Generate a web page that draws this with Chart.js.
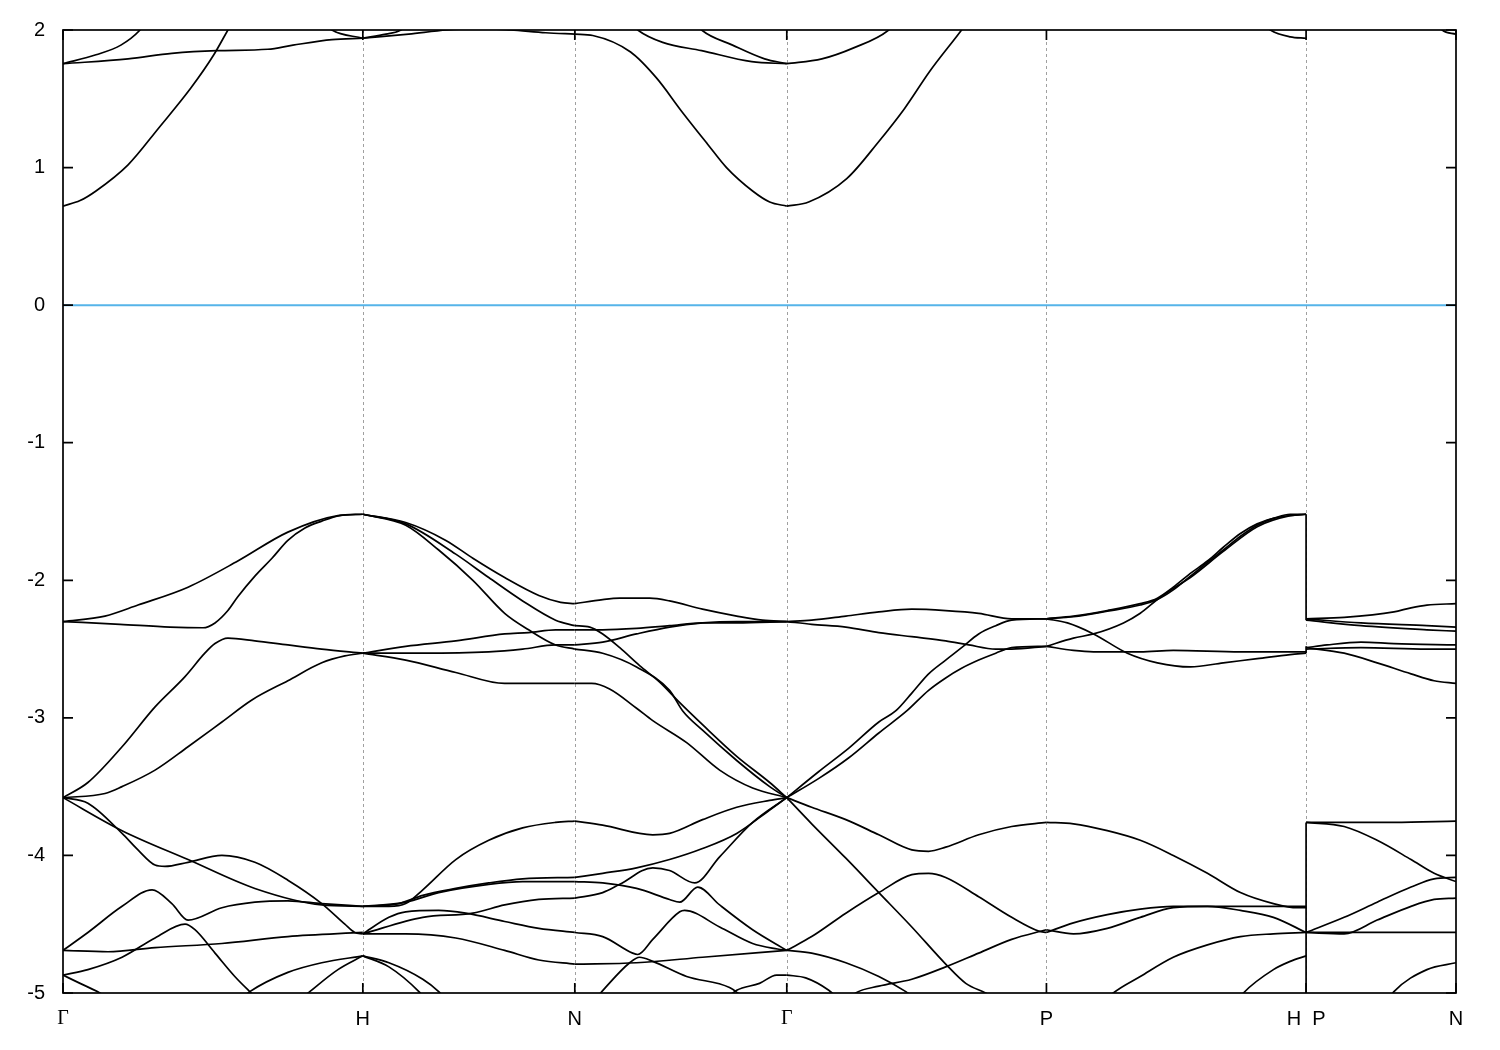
<!DOCTYPE html>
<html>
<head>
<meta charset="utf-8">
<script src="https://cdn.jsdelivr.net/npm/chart.js@4.4.1/dist/chart.umd.min.js"></script>
<style>
  body { margin: 0; background: #fff; }
  canvas { display: block; }
</style>
</head>
<body>
<canvas id="bands" width="1500" height="1050"></canvas>
<script>
// high symmetry points along the k path (bcc: G-H-N-G-P-H|P-N)
const kTicks = [0, 1, 1.707, 2.414, 3.280, 4.146, 4.646];
const kLabels = ['Γ', 'H', 'N', 'Γ', 'P', 'H  P', 'N'];

// bands, one list of [k, E(eV)] per line, grouped by path segment
const segGH = [
  [[0,-2.30],[0.14,-2.26],[0.25,-2.18],[0.417,-2.05],[0.583,-1.86],[0.75,-1.65],[0.917,-1.53],[1,-1.52]],
  [[0,-2.30],[0.19,-2.32],[0.357,-2.34],[0.467,-2.345],[0.507,-2.31],[0.55,-2.22],[0.583,-2.12],[0.64,-1.97],[0.697,-1.84],[0.75,-1.71],[0.807,-1.62],[0.863,-1.57],[0.923,-1.53],[1,-1.52]],
  [[0,-3.58],[0.083,-3.47],[0.197,-3.21],[0.307,-2.92],[0.407,-2.70],[0.473,-2.53],[0.507,-2.46],[0.55,-2.42],[0.64,-2.44],[0.75,-2.47],[0.863,-2.50],[1,-2.53]],
  [[0,-3.58],[0.14,-3.55],[0.197,-3.50],[0.307,-3.38],[0.417,-3.21],[0.53,-3.03],[0.63,-2.87],[0.75,-2.73],[0.863,-2.60],[0.94,-2.55],[1,-2.53]],
  [[0,-3.58],[0.197,-3.82],[0.417,-4.03],[0.64,-4.24],[0.863,-4.36],[1,-4.37]],
  [[0,-3.58],[0.083,-3.62],[0.197,-3.84],[0.25,-3.96],[0.307,-4.07],[0.34,-4.08],[0.417,-4.05],[0.53,-4.00],[0.64,-4.05],[0.75,-4.18],[0.863,-4.35],[0.94,-4.50],[0.973,-4.56],[1,-4.57]],
  [[0,-4.69],[0.083,-4.56],[0.197,-4.37],[0.297,-4.25],[0.363,-4.35],[0.417,-4.47],[0.53,-4.38],[0.64,-4.34],[0.75,-4.33],[0.863,-4.35],[1,-4.37]],
  [[0,-4.87],[0.083,-4.83],[0.197,-4.74],[0.307,-4.60],[0.407,-4.50],[0.44,-4.54],[0.507,-4.71],[0.573,-4.88],[0.623,-4.99],[0.657,-5.06]],
  [[0,-4.69],[0.15,-4.70],[0.307,-4.67],[0.53,-4.64],[0.75,-4.59],[1,-4.56]],
  [[0,-4.87],[0.057,-4.93],[0.123,-5.0],[0.157,-5.05]],
  [[0.59,-5.05],[0.623,-4.99],[0.75,-4.85],[0.863,-4.78],[1,-4.73]],
  [[0.79,-5.05],[0.823,-4.99],[0.917,-4.83],[1,-4.73]],
  [[0,0.72],[0.057,0.76],[0.11,0.83],[0.217,1.02],[0.32,1.29],[0.427,1.58],[0.503,1.82],[0.55,2.0],[0.59,2.15]],
  [[0,1.755],[0.217,1.79],[0.363,1.83],[0.513,1.85],[0.683,1.86],[0.767,1.89],[0.897,1.93],[1,1.94]],
  [[0,1.755],[0.11,1.82],[0.193,1.89],[0.257,2.0],[0.307,2.15]],
  [[0.823,2.15],[0.897,2.0],[1,1.94]]
];

const segHN = [
  [[1,-1.52],[1.143,-1.58],[1.277,-1.71],[1.367,-1.84],[1.473,-1.98],[1.587,-2.11],[1.66,-2.16],[1.707,-2.17]],
  [[1,-1.52],[1.143,-1.59],[1.31,-1.81],[1.42,-1.98],[1.533,-2.15],[1.643,-2.29],[1.707,-2.33]],
  [[1,-1.52],[1.143,-1.60],[1.253,-1.78],[1.367,-2.00],[1.473,-2.24],[1.553,-2.36],[1.643,-2.47],[1.707,-2.50]],
  [[1,-2.53],[1.143,-2.48],[1.31,-2.44],[1.473,-2.39],[1.553,-2.38],[1.643,-2.36],[1.707,-2.36]],
  [[1,-2.53],[1.2,-2.53],[1.42,-2.52],[1.533,-2.50],[1.643,-2.47],[1.707,-2.47]],
  [[1,-2.53],[1.143,-2.58],[1.31,-2.67],[1.473,-2.75],[1.643,-2.75],[1.707,-2.75]],
  [[1,-4.37],[1.087,-4.37],[1.143,-4.35],[1.2,-4.25],[1.31,-4.03],[1.42,-3.89],[1.533,-3.80],[1.643,-3.76],[1.707,-3.75]],
  [[1,-4.37],[1.12,-4.35],[1.2,-4.29],[1.31,-4.24],[1.42,-4.20],[1.533,-4.17],[1.707,-4.16]],
  [[1,-4.37],[1.143,-4.34],[1.253,-4.27],[1.42,-4.21],[1.533,-4.19],[1.707,-4.19]],
  [[1,-4.57],[1.087,-4.45],[1.143,-4.41],[1.253,-4.40],[1.343,-4.42],[1.473,-4.48],[1.587,-4.53],[1.707,-4.56]],
  [[1,-4.57],[1.2,-4.45],[1.367,-4.42],[1.473,-4.36],[1.587,-4.32],[1.707,-4.31]],
  [[1,-4.57],[1.143,-4.57],[1.31,-4.60],[1.473,-4.69],[1.587,-4.76],[1.707,-4.79]],
  [[1,-4.73],[1.087,-4.78],[1.2,-4.90],[1.253,-4.99],[1.277,-5.05]],
  [[1,-4.73],[1.087,-4.81],[1.187,-4.99],[1.21,-5.05]],
  [[1,1.94],[1.153,1.97],[1.28,2.0],[1.393,2.01],[1.493,2.0],[1.61,1.98],[1.707,1.97]],
  [[1,1.94],[1.077,1.97],[1.127,2.0],[1.177,2.1]]
];

const segNG = [
  [[1.707,-2.17],[1.8,-2.14],[1.857,-2.13],[1.957,-2.13],[2.023,-2.15],[2.133,-2.21],[2.247,-2.26],[2.333,-2.29],[2.414,-2.30]],
  [[1.707,-2.33],[1.757,-2.34],[1.8,-2.39],[1.857,-2.49],[1.923,-2.62],[1.99,-2.74],[2.057,-2.89],[2.133,-3.05],[2.247,-3.28],[2.357,-3.47],[2.414,-3.58]],
  [[1.707,-2.50],[1.8,-2.53],[1.913,-2.63],[2.023,-2.80],[2.067,-2.95],[2.133,-3.09],[2.247,-3.31],[2.357,-3.50],[2.414,-3.58]],
  [[1.707,-2.36],[1.8,-2.36],[1.913,-2.35],[2.023,-2.33],[2.133,-2.31],[2.247,-2.31],[2.414,-2.30]],
  [[1.707,-2.47],[1.8,-2.45],[1.913,-2.39],[2.023,-2.34],[2.133,-2.31],[2.247,-2.30],[2.414,-2.30]],
  [[1.707,-2.75],[1.763,-2.75],[1.823,-2.79],[1.913,-2.93],[1.967,-3.02],[2.08,-3.18],[2.19,-3.38],[2.3,-3.51],[2.414,-3.58]],
  [[1.707,-3.75],[1.8,-3.78],[1.967,-3.85],[2.023,-3.84],[2.133,-3.74],[2.247,-3.65],[2.357,-3.60],[2.414,-3.58]],
  [[1.707,-4.16],[1.8,-4.13],[1.913,-4.09],[2.023,-4.03],[2.133,-3.95],[2.247,-3.84],[2.357,-3.67],[2.414,-3.58]],
  [[1.707,-4.19],[1.8,-4.20],[1.913,-4.24],[2.023,-4.32],[2.057,-4.34],[2.117,-4.23],[2.19,-4.36],[2.3,-4.54],[2.414,-4.69]],
  [[1.707,-4.31],[1.8,-4.27],[1.857,-4.21],[1.967,-4.09],[2.023,-4.11],[2.107,-4.20],[2.19,-4.01],[2.3,-3.76],[2.414,-3.58]],
  [[1.707,-4.56],[1.8,-4.59],[1.9,-4.71],[1.917,-4.72],[1.967,-4.61],[2.057,-4.41],[2.073,-4.40],[2.19,-4.52],[2.3,-4.64],[2.383,-4.68],[2.414,-4.69]],
  [[1.707,-4.79],[1.913,-4.78],[2.133,-4.74],[2.414,-4.69]],
  [[1.773,-5.05],[1.797,-4.99],[1.89,-4.78],[1.923,-4.74],[1.967,-4.77],[2.08,-4.88],[2.223,-4.96],[2.28,-5.05]],
  [[2.207,-5.05],[2.247,-4.98],[2.323,-4.93],[2.38,-4.87],[2.414,-4.87]],
  [[1.707,1.97],[1.767,1.96],[1.893,1.84],[1.98,1.65],[2.063,1.41],[2.15,1.17],[2.213,1.00],[2.3,0.83],[2.357,0.75],[2.414,0.72]],
  [[1.873,2.1],[1.917,2.0],[2.0,1.91],[2.13,1.85],[2.297,1.77],[2.414,1.755]],
  [[2.09,2.1],[2.13,2.0],[2.233,1.89],[2.34,1.79],[2.414,1.755]]
];

const segGP = [
  [[2.414,-2.30],[2.497,-2.29],[2.611,-2.26],[2.721,-2.23],[2.831,-2.21],[2.944,-2.22],[3.054,-2.24],[3.164,-2.28],[3.28,-2.28]],
  [[2.414,-2.30],[2.497,-2.32],[2.611,-2.34],[2.721,-2.38],[2.831,-2.41],[2.944,-2.44],[3.021,-2.47],[3.111,-2.50],[3.164,-2.50],[3.28,-2.48]],
  [[2.414,-3.58],[2.521,-3.39],[2.621,-3.22],[2.721,-3.03],[2.777,-2.95],[2.831,-2.82],[2.887,-2.68],[2.944,-2.58],[2.997,-2.49],[3.054,-2.39],[3.111,-2.33],[3.164,-2.29],[3.28,-2.28]],
  [[2.414,-3.58],[2.521,-3.44],[2.621,-3.29],[2.721,-3.11],[2.814,-2.95],[2.887,-2.80],[2.944,-2.71],[2.997,-2.64],[3.054,-2.58],[3.111,-2.53],[3.164,-2.49],[3.28,-2.48]],
  [[2.414,-3.58],[2.497,-3.65],[2.611,-3.74],[2.721,-3.85],[2.831,-3.96],[2.887,-3.97],[2.944,-3.94],[3.054,-3.85],[3.164,-3.79],[3.28,-3.76]],
  [[2.414,-3.58],[2.497,-3.77],[2.611,-4.02],[2.721,-4.27],[2.831,-4.52],[2.944,-4.79],[3.011,-4.93],[3.077,-5.0],[3.12,-5.05]],
  [[2.414,-4.69],[2.497,-4.59],[2.611,-4.42],[2.721,-4.27],[2.831,-4.14],[2.887,-4.13],[2.944,-4.16],[3.054,-4.30],[3.164,-4.45],[3.254,-4.55],[3.28,-4.56]],
  [[2.414,-4.69],[2.497,-4.71],[2.611,-4.78],[2.721,-4.88],[2.811,-4.99],[2.85,-5.05]],
  [[2.414,-4.87],[2.477,-4.89],[2.554,-4.98],[2.59,-5.05]],
  [[2.62,-5.05],[2.644,-5.0],[2.721,-4.95],[2.831,-4.90],[2.944,-4.81],[3.054,-4.71],[3.164,-4.61],[3.28,-4.54]],
  [[2.414,0.72],[2.487,0.75],[2.614,0.92],[2.721,1.19],[2.807,1.43],[2.891,1.70],[2.997,2.0],[3.037,2.12]],
  [[2.414,1.755],[2.531,1.79],[2.637,1.87],[2.754,2.0],[2.787,2.08]]
];

const segPH = [
  [[3.28,-2.28],[3.37,-2.26],[3.483,-2.22],[3.593,-2.17],[3.65,-2.13],[3.703,-2.05],[3.76,-1.95],[3.817,-1.86],[3.87,-1.76],[3.927,-1.66],[3.983,-1.59],[4.037,-1.55],[4.093,-1.52],[4.146,-1.52]],
  [[3.28,-2.28],[3.37,-2.265],[3.483,-2.225],[3.593,-2.18],[3.65,-2.14],[3.703,-2.07],[3.76,-1.97],[3.817,-1.87],[3.87,-1.78],[3.927,-1.68],[3.983,-1.60],[4.037,-1.55],[4.146,-1.52]],
  [[3.28,-2.48],[3.37,-2.42],[3.437,-2.39],[3.537,-2.31],[3.593,-2.24],[3.65,-2.14],[3.703,-2.06],[3.76,-1.98],[3.87,-1.79],[3.983,-1.61],[4.093,-1.53],[4.146,-1.52]],
  [[3.28,-2.28],[3.35,-2.31],[3.437,-2.39],[3.55,-2.53],[3.65,-2.60],[3.76,-2.63],[3.87,-2.60],[3.983,-2.57],[4.093,-2.54],[4.146,-2.53]],
  [[3.28,-2.48],[3.37,-2.51],[3.437,-2.52],[3.593,-2.52],[3.703,-2.51],[3.927,-2.52],[4.146,-2.52]],
  [[3.28,-3.76],[3.37,-3.77],[3.483,-3.82],[3.593,-3.89],[3.703,-4.00],[3.817,-4.13],[3.927,-4.27],[4.037,-4.35],[4.117,-4.38],[4.146,-4.38]],
  [[3.28,-4.56],[3.37,-4.49],[3.483,-4.43],[3.593,-4.39],[3.703,-4.37],[3.927,-4.37],[4.146,-4.37]],
  [[3.28,-4.54],[3.37,-4.57],[3.483,-4.53],[3.593,-4.45],[3.703,-4.38],[3.817,-4.37],[3.927,-4.40],[4.037,-4.45],[4.146,-4.56]],
  [[3.48,-5.05],[3.503,-5.0],[3.593,-4.88],[3.703,-4.74],[3.817,-4.65],[3.927,-4.59],[4.037,-4.57],[4.146,-4.56]],
  [[3.92,-5.05],[3.937,-5.0],[4.037,-4.83],[4.093,-4.77],[4.146,-4.73]],
  [[3.977,2.1],[4.027,2.0],[4.093,1.95],[4.146,1.94]]
];

const segPN = [
  [[4.146,-2.28],[4.273,-2.27],[4.439,-2.23],[4.496,-2.20],[4.549,-2.18],[4.646,-2.17]],
  [[4.146,-2.28],[4.329,-2.31],[4.549,-2.33],[4.646,-2.34]],
  [[4.146,-2.29],[4.329,-2.33],[4.549,-2.36],[4.646,-2.37]],
  [[4.146,-2.49],[4.216,-2.47],[4.329,-2.45],[4.439,-2.46],[4.646,-2.47]],
  [[4.146,-2.50],[4.329,-2.49],[4.549,-2.50],[4.646,-2.50]],
  [[4.146,-2.49],[4.273,-2.53],[4.383,-2.60],[4.496,-2.68],[4.573,-2.73],[4.646,-2.75]],
  [[4.146,-3.76],[4.439,-3.76],[4.646,-3.75]],
  [[4.146,-3.76],[4.273,-3.79],[4.383,-3.89],[4.496,-4.03],[4.573,-4.13],[4.646,-4.19]],
  [[4.146,-4.56],[4.273,-4.45],[4.383,-4.34],[4.496,-4.23],[4.573,-4.17],[4.646,-4.16]],
  [[4.146,-4.56],[4.273,-4.57],[4.383,-4.47],[4.496,-4.37],[4.573,-4.32],[4.646,-4.31]],
  [[4.146,-4.56],[4.646,-4.56]],
  [[4.42,-5.05],[4.439,-4.99],[4.549,-4.83],[4.646,-4.78]],
  [[4.55,2.15],[4.6,2.0],[4.646,1.97]]
];

// energies joined by vertical steps at the H|P break
const hpJumps = [[-1.52, -2.29], [-2.53, -2.48], [-3.76, -5.05]];

const fermiLevel = 0;

const bandList = [].concat(segGH, segHN, segNG, segGP, segPH, segPN);

const datasets = [];
datasets.push({
  data: [{x: kTicks[0], y: fermiLevel}, {x: kTicks[kTicks.length - 1], y: fermiLevel}],
  borderColor: '#56b4e9',
  borderWidth: 2,
  tension: 0
});
bandList.forEach(band => {
  datasets.push({
    data: band.map(p => ({x: p[0], y: p[1]})),
    borderColor: '#000',
    borderWidth: 1.7,
    cubicInterpolationMode: 'monotone'
  });
});
hpJumps.forEach(j => {
  datasets.push({
    data: [{x: kTicks[5], y: j[0]}, {x: kTicks[5], y: j[1]}],
    borderColor: '#000',
    borderWidth: 1.7,
    tension: 0
  });
});

const frame = {
  id: 'frame',
  beforeDatasetsDraw(chart) {
    const {ctx, chartArea: a, scales: {x}} = chart;
    ctx.save();
    ctx.strokeStyle = '#a0a0a0';
    ctx.lineWidth = 1;
    ctx.setLineDash([3, 3]);
    kTicks.slice(1, -1).forEach(k => {
      const px = Math.round(x.getPixelForValue(k)) + 0.5;
      ctx.beginPath();
      ctx.moveTo(px, a.top);
      ctx.lineTo(px, a.bottom);
      ctx.stroke();
    });
    ctx.restore();
  },
  afterDatasetsDraw(chart) {
    const {ctx, chartArea: a, scales: {x, y}} = chart;
    ctx.save();
    ctx.strokeStyle = '#000';
    ctx.lineWidth = 1.7;
    ctx.strokeRect(a.left, a.top, a.right - a.left, a.bottom - a.top);
    const len = 10;
    ctx.beginPath();
    y.ticks.forEach(t => {
      const py = y.getPixelForValue(t.value);
      ctx.moveTo(a.left, py); ctx.lineTo(a.left + len, py);
      ctx.moveTo(a.right, py); ctx.lineTo(a.right - len, py);
    });
    kTicks.forEach(k => {
      const px = x.getPixelForValue(k);
      ctx.moveTo(px, a.bottom); ctx.lineTo(px, a.bottom - len);
      ctx.moveTo(px, a.top); ctx.lineTo(px, a.top + len);
    });
    ctx.stroke();
    ctx.restore();
  }
};

new Chart(document.getElementById('bands'), {
  type: 'scatter',
  data: {datasets: datasets},
  options: {
    responsive: false,
    animation: false,
    showLine: true,
    elements: {point: {radius: 0}},
    layout: {padding: {left: 0, right: 44, top: 28, bottom: 0}},
    plugins: {legend: {display: false}, tooltip: {enabled: false}},
    scales: {
      x: {
        type: 'linear',
        min: kTicks[0],
        max: kTicks[kTicks.length - 1],
        afterBuildTicks: s => { s.ticks = kTicks.map(v => ({value: v})); },
        afterFit: s => { s.height = 57; },
        grid: {display: false, drawTicks: false},
        border: {display: false},
        ticks: {
          padding: 14,
          color: '#000',
          maxRotation: 0,
          autoSkip: false,
          font: ctx => ({family: kLabels[ctx.index] === 'Γ' ? 'Liberation Serif' : 'Liberation Sans', size: 20}),
          callback: (v, i) => kLabels[i]
        }
      },
      y: {
        min: -5,
        max: 2,
        afterFit: s => { s.width = 63; },
        grid: {display: false, drawTicks: false},
        border: {display: false},
        ticks: {stepSize: 1, padding: 18, color: '#000', font: {family: 'Liberation Sans', size: 20}}
      }
    }
  },
  plugins: [frame]
});
</script>
</body>
</html>
